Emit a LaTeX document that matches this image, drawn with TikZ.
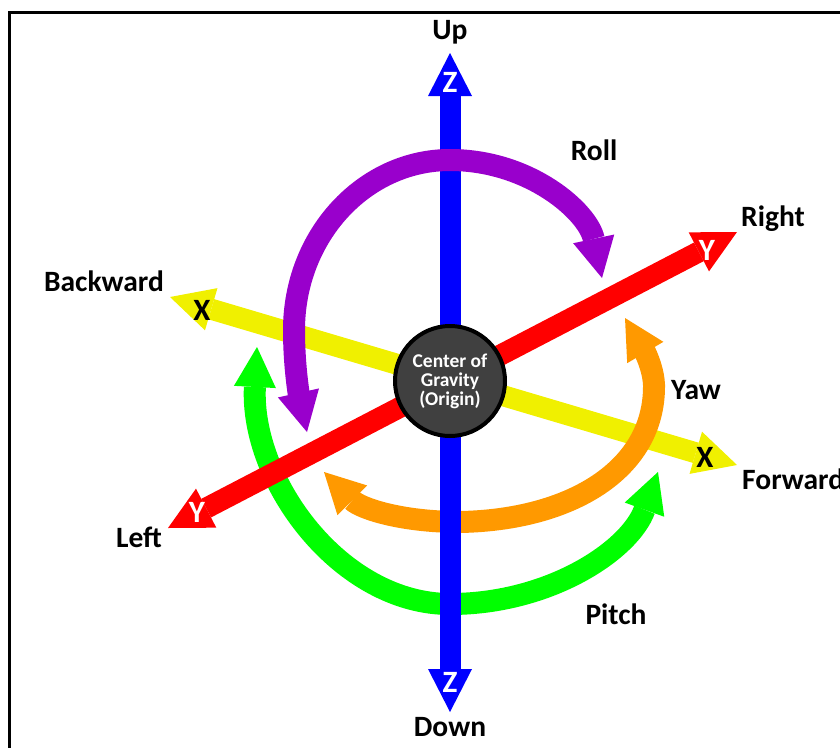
\documentclass[tikz,border=0pt]{standalone}
\usepackage{fontspec}
\setmainfont{Carlito}
\usetikzlibrary{arrows.meta}

\definecolor{zblue}{RGB}{0,0,255}
\definecolor{yred}{RGB}{255,0,0}
\definecolor{xyellow}{RGB}{240,240,0}
\definecolor{rollpurple}{RGB}{153,0,204}
\definecolor{yaworange}{RGB}{255,153,0}
\definecolor{pitchgreen}{RGB}{0,255,0}
\definecolor{cogray}{RGB}{64,64,64}

\tikzset{
  axisline/.style={line width=21pt,{Triangle[length=43pt,width=44pt,line width=0pt]}-{Triangle[length=43pt,width=44pt,line width=0pt]}},
  turnline/.style={line width=22pt,{Triangle[length=40pt,width=42pt,line width=0pt]}-{Triangle[length=40pt,width=42pt,line width=0pt]}},
  dirlabel/.style={font=\fontsize{29.5}{31}\selectfont\bfseries},
  headlabel/.style={font=\fontsize{31}{32}\selectfont\bfseries,inner sep=0pt}
}

\begin{document}
\begin{tikzpicture}[x=1pt,y=-1pt]
  \useasboundingbox (0,0) rectangle (840,747);
  \clip (0,0) rectangle (840,747);
  \draw[line width=3pt] (9.5,12) rectangle (880,790);

  % axis end points
  \coordinate (xB) at (170,297);
  \coordinate (xF) at (737,465);
  \coordinate (yL) at (168,528);
  \coordinate (yR) at (737,232);
  \coordinate (zU) at (450,53);
  \coordinate (zD) at (450,712);

  % axes and rotations
  \draw[axisline,xyellow] (xB) -- (xF);
  \draw[turnline,pitchgreen] (257,347) .. controls (250,480) and (340,604) .. (450,604)
    .. controls (550,604) and (630,550) .. (658,472);
  \draw[axisline,yred] (yL) -- (yR);
  \draw[turnline,yaworange] (324,472) .. controls (360,508) and (400,522) .. (460,522)
    .. controls (570,520) and (655,470) .. (654,385)
    .. controls (653,360) and (635,335) .. (625,318);
  \draw[axisline,zblue] (zD) -- (zU);
  \draw[turnline,rollpurple] (307,432) .. controls (300,400) and (294,370) .. (294,330)
    .. controls (294,236) and (364,160) .. (450,160)
    .. controls (530,160) and (588,212) .. (602,278);

  \node[circle,fill=cogray,draw=black,line width=4pt,minimum size=110pt,inner sep=0pt,
    text=white,align=center,font=\fontsize{19.5}{19}\selectfont\bfseries] (C) at (450,381)
    {Center of\\Gravity\\(Origin)};

  % letters on the arrow heads
  \node[headlabel,text=black] (xBl) at (202,310) {X};
  \node[headlabel,text=black] (xFl) at (705,457) {X};
  \node[headlabel,text=white] (yLl) at (197,512) {Y};
  \node[headlabel,text=white] (yRl) at (707,250) {Y};
  \node[headlabel,text=white] (zUl) at (450,82) {Z};
  \node[headlabel,text=white] (zDl) at (450,682) {Z};

  % direction names
  \node[dirlabel] (up) at (450,32) {Up};
  \node[dirlabel] (down) at (450,727) {Down};
  \node[dirlabel] (right) at (773,219) {Right};
  \node[dirlabel] (left) at (139,537) {Left};
  \node[dirlabel] (backward) at (104,281) {Backward};
  \node[dirlabel,anchor=west,inner sep=0pt] (forward) at (742,479) {Forward};
  \node[dirlabel] (roll) at (594,150) {Roll};
  \node[dirlabel] (yaw) at (696,390) {Yaw};
  \node[dirlabel] (pitch) at (616,614) {Pitch};
\end{tikzpicture}
\end{document}
